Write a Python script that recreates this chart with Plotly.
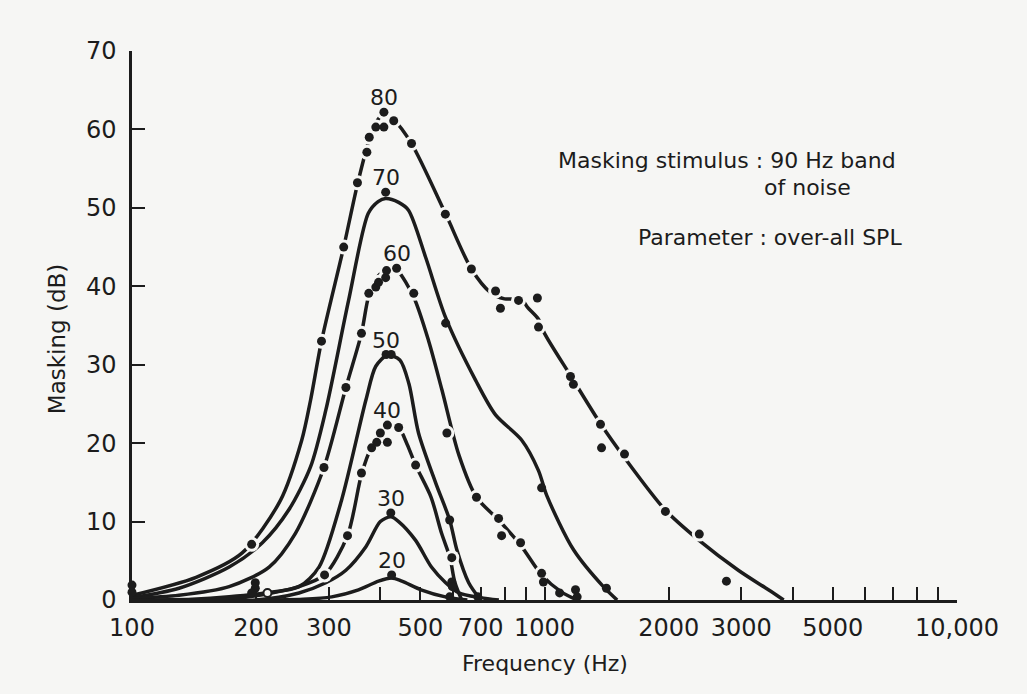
import math
import plotly.graph_objects as go

BG = "#f6f6f4"
INK = "#1c1c1c"
FONT = "DejaVu Sans"

# ---------------- data ----------------
levels = [80, 70, 60, 50, 40, 30, 20]

# smooth drawn curves (frequency Hz, masking dB)
line_f_80 = [100, 143, 185, 229, 258, 271, 288, 326, 352, 376, 395, 410, 430, 476, 575, 665, 740, 800, 880, 910, 967, 1000, 1160, 1370, 1560, 1960, 2370, 2950, 3490, 3800]
line_db_80 = [0.6, 2.9, 6.0, 12.7, 20.4, 25.5, 33.0, 45.0, 53.0, 58.7, 61.3, 62.0, 61.3, 58.2, 49.3, 42.2, 39.2, 38.4, 38.3, 37.3, 35.8, 34.0, 28.5, 22.4, 18.2, 11.5, 7.6, 3.8, 1.3, 0.0]

line_f_70 = [100, 130, 172, 207, 240, 271, 295, 335, 374, 395, 412, 443, 468, 515, 576, 681, 761, 880, 967, 1013, 1176, 1389, 1500]
line_db_70 = [0.3, 1.5, 4.2, 7.3, 11.5, 17.0, 24.2, 38.2, 49.3, 50.8, 51.2, 50.7, 49.7, 43.7, 36.0, 28.0, 23.6, 20.4, 16.5, 13.3, 6.4, 1.7, 0.0]

line_f_60 = [100, 130, 172, 215, 249, 292, 330, 360, 375, 395, 420, 440, 482, 524, 564, 620, 684, 774, 875, 984, 1100, 1200]
line_db_60 = [0.2, 0.6, 1.7, 4.2, 8.5, 16.9, 27.1, 34.0, 38.8, 41.3, 42.4, 42.0, 38.6, 33.0, 26.8, 18.5, 13.1, 10.2, 7.0, 3.2, 1.0, 0.0]

line_f_50 = [100, 140, 172, 210, 254, 284, 322, 369, 390, 416, 446, 469, 495, 545, 589, 613, 655, 700]
line_db_50 = [0.0, 0.1, 0.4, 0.9, 1.7, 4.2, 12.7, 25.5, 29.8, 31.2, 30.6, 27.6, 21.3, 14.9, 10.2, 6.4, 2.2, 0.0]

line_f_40 = [100, 170, 218, 250, 293, 333, 360, 381, 400, 418, 443, 465, 487, 531, 563, 590, 606, 630]
line_db_40 = [0.0, 0.1, 0.9, 1.6, 3.2, 8.2, 16.0, 19.6, 21.5, 22.4, 22.0, 19.8, 17.2, 13.1, 8.5, 5.4, 2.3, 0.0]

line_f_30 = [100, 200, 254, 295, 330, 369, 400, 424, 443, 487, 532, 576, 620, 700, 775]
line_db_30 = [0.0, 0.0, 0.9, 2.2, 3.8, 6.8, 10.0, 10.6, 10.0, 7.6, 4.2, 2.2, 0.9, 0.3, 0.0]

line_f_20 = [200, 260, 305, 354, 396, 426, 451, 502, 575, 650]
line_db_20 = [0.0, 0.1, 0.4, 1.3, 2.4, 2.8, 2.4, 1.3, 0.4, 0.0]

# measured data points
dot_f_80 = [100, 195, 288, 326, 352, 371, 376, 390, 408, 408, 431, 476, 575, 665, 761, 782, 865, 961, 967, 1156, 1175, 1367, 1375, 1563, 1964, 2373, 2761]
dot_db_80 = [1.9, 7.1, 33.0, 45.0, 53.2, 57.1, 59.0, 60.3, 60.3, 62.2, 61.1, 58.2, 49.2, 42.2, 39.4, 37.2, 38.2, 38.5, 34.8, 28.5, 27.5, 22.4, 19.4, 18.6, 11.3, 8.4, 2.4]

dot_f_70 = [100, 199, 412, 576, 984, 1189, 1200, 1413]
dot_db_70 = [1.0, 1.5, 52.0, 35.3, 14.3, 1.3, 0.4, 1.5]

dot_f_60 = [199, 292, 330, 360, 375, 390, 396, 412, 414, 438, 482, 580, 684, 774, 787, 875, 984, 994, 1088]
dot_db_60 = [2.2, 16.9, 27.1, 34.0, 39.1, 39.9, 40.5, 41.1, 42.0, 42.3, 39.1, 21.3, 13.1, 10.4, 8.2, 7.3, 3.4, 2.3, 0.9]

dot_f_50 = [195, 413, 425, 589, 689]
dot_db_50 = [0.9, 31.3, 31.3, 10.2, 0.4]

dot_f_40 = [293, 333, 360, 381, 392, 400, 416, 416, 443, 487, 596, 596]
dot_db_40 = [3.2, 8.2, 16.2, 19.4, 20.1, 21.3, 22.3, 20.1, 22.0, 17.2, 5.4, 2.3]

dot_f_30 = [424, 589, 598]
dot_db_30 = [11.1, 0.4, 1.7]

dot_f_20 = [426]
dot_db_20 = [3.2]

open_f = [213]
open_db = [0.9]

x_tick_vals = [100, 200, 300, 400, 500, 600, 700, 800, 900, 1000,
               2000, 3000, 4000, 5000, 6000, 7000, 8000, 9000, 10000]
x_tick_text = ["100", "200", "300", "", "500", "", "700", "", "", "1000",
               "2000", "3000", "", "5000", "", "", "", "", "10,000"]
y_tick_vals = [0, 10, 20, 30, 40, 50, 60, 70]
y_tick_text = ["0", "10", "20", "30", "40", "50", "60", "70"]

x_title = "Frequency (Hz)"
y_title = "Masking (dB)"
note_1 = "Masking stimulus : 90 Hz band"
note_2 = "of noise"
note_3 = "Parameter : over-all SPL"

lines = {80: (line_f_80, line_db_80), 70: (line_f_70, line_db_70), 60: (line_f_60, line_db_60),
         50: (line_f_50, line_db_50), 40: (line_f_40, line_db_40), 30: (line_f_30, line_db_30),
         20: (line_f_20, line_db_20)}
dots = {80: (dot_f_80, dot_db_80), 70: (dot_f_70, dot_db_70), 60: (dot_f_60, dot_db_60),
        50: (dot_f_50, dot_db_50), 40: (dot_f_40, dot_db_40), 30: (dot_f_30, dot_db_30),
        20: (dot_f_20, dot_db_20)}
broken = {80, 60, 40}   # curves drawn as broken lines around their points

fig = go.Figure()

for lev in levels:
    lf, ldb = lines[lev]
    fig.add_trace(go.Scatter(x=lf, y=ldb, mode="lines", cliponaxis=False,
                             line=dict(color=INK, width=3.5, shape="spline", smoothing=0.8),
                             hoverinfo="skip", showlegend=False))

# gaps in broken lines around the data points
for lev in levels:
    if lev not in broken:
        continue
    df, ddb = dots[lev]
    gf = [f for f, d in zip(df, ddb) if d > 2.5]
    gd = [d for d in ddb if d > 2.5]
    fig.add_trace(go.Scatter(x=gf, y=gd, mode="markers", cliponaxis=False,
                             marker=dict(size=15, color=BG, line=dict(width=0)),
                             hoverinfo="skip", showlegend=False))

for lev in levels:
    df, ddb = dots[lev]
    fig.add_trace(go.Scatter(x=df, y=ddb, mode="markers", cliponaxis=False,
                             marker=dict(size=9, color=INK, line=dict(width=0)),
                             name=str(lev), showlegend=False))

fig.add_trace(go.Scatter(x=open_f, y=open_db, mode="markers", cliponaxis=False,
                         marker=dict(size=8, color=BG, line=dict(width=2, color=INK)),
                         showlegend=False))

# curve labels above each peak
for lev in levels:
    df, ddb = dots[lev]
    k = max(range(len(ddb)), key=lambda i: ddb[i])
    fig.add_annotation(x=math.log10(df[k]), y=ddb[k], text=str(lev),
                       showarrow=False, xanchor="center", yanchor="bottom", yshift=0,
                       font=dict(family=FONT, size=22, color=INK))

fig.add_annotation(xref="paper", yref="paper", x=0.5, y=-0.115, text=x_title,
                   showarrow=False, xanchor="center", yanchor="middle",
                   font=dict(family=FONT, size=22, color=INK))
fig.add_annotation(xref="paper", yref="paper", x=-0.091, y=0.475, text=y_title,
                   showarrow=False, xanchor="center", yanchor="middle", textangle=-90,
                   font=dict(family=FONT, size=23, color=INK))
fig.add_annotation(xref="paper", yref="paper", x=(898 - 132) / 825, y=(600 - 160) / 549,
                   text=note_1, showarrow=False, xanchor="right", yanchor="middle",
                   font=dict(family=FONT, size=22, color=INK))
fig.add_annotation(xref="paper", yref="paper", x=(762 - 132) / 825, y=(600 - 187) / 549,
                   text=note_2, showarrow=False, xanchor="left", yanchor="middle",
                   font=dict(family=FONT, size=22, color=INK))
fig.add_annotation(xref="paper", yref="paper", x=(636 - 132) / 825, y=(600 - 237) / 549,
                   text=note_3, showarrow=False, xanchor="left", yanchor="middle",
                   font=dict(family=FONT, size=22, color=INK))

fig.update_xaxes(type="log", range=[2, 4], tickvals=x_tick_vals, ticktext=x_tick_text,
                 showline=True, linecolor=INK, linewidth=2.5, mirror=False,
                 ticks="inside", ticklen=13, tickwidth=2, tickcolor=INK,
                 showgrid=False, zeroline=False, ticklabelstandoff=4,
                 tickfont=dict(family=FONT, size=24, color=INK))
fig.update_yaxes(range=[0, 70], tickvals=y_tick_vals, ticktext=y_tick_text,
                 showline=True, linecolor=INK, linewidth=2.5, mirror=False,
                 ticks="inside", ticklen=13, tickwidth=2, tickcolor=INK,
                 showgrid=False, zeroline=False, ticklabelstandoff=8,
                 tickfont=dict(family=FONT, size=24, color=INK))

fig.update_layout(width=1027, height=694,
                  margin=dict(l=132, r=70, t=51, b=94),
                  paper_bgcolor=BG, plot_bgcolor=BG, showlegend=False)

fig.write_html("out.html")
